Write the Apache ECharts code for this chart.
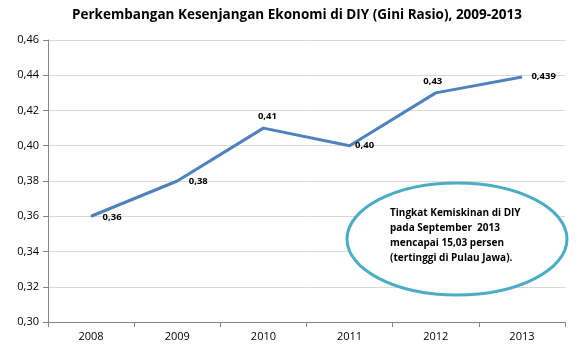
<!DOCTYPE html>
<html>
<head>
<meta charset="utf-8">
<script src="https://cdn.jsdelivr.net/npm/echarts@6/dist/echarts.min.js"></script>
<style>
  html, body { margin: 0; padding: 0; background: #fff; }
  #main { width: 587px; height: 352px; }
</style>
</head>
<body>
<div id="main"></div>
<script>
// data
var years = ["2008", "2009", "2010", "2011", "2012", "2013"];
var gini = [0.36, 0.38, 0.41, 0.40, 0.43, 0.439];
var giniLabels = ["0,36", "0,38", "0,41", "0,40", "0,43", "0,439"];
var noteLines = [
  "Tingkat Kemiskinan di DIY",
  "pada September  2013",
  "mencapai 15,03 persen",
  "(tertinggi di Pulau Jawa)."
];

var font = "'Open Sans', 'Liberation Sans', sans-serif";

// label placement per point (excel style)
var labelPos = [
  { position: "right", distance: 11, offset: [0, 1] },
  { position: "right", distance: 11, offset: [0, 0] },
  { position: "top", distance: 6, offset: [4, 0] },
  { position: "right", distance: 5, offset: [0, 0] },
  { position: "top", distance: 6, offset: [-3, 0] },
  { position: "right", distance: 9, offset: [0, -1] }
];

var myChart = echarts.init(document.getElementById("main"));
myChart.setOption({
  animation: false,
  title: {
    text: "Perkembangan Kesenjangan Ekonomi di DIY (Gini Rasio), 2009-2013",
    left: 292,
    textAlign: "center",
    top: 3,
    textStyle: {
      color: "#000",
      fontSize: 13.5,
      fontWeight: "bold",
      fontFamily: font
    }
  },
  grid: {
    left: 48,
    right: 22,
    top: 40,
    bottom: 30
  },
  xAxis: {
    type: "category",
    data: years,
    boundaryGap: true,
    axisLine: { lineStyle: { color: "#868686", width: 1 } },
    axisTick: { show: true, length: 5, lineStyle: { color: "#868686" } },
    axisLabel: { color: "#000", fontSize: 11, fontFamily: font, margin: 9 },
    splitLine: { show: false }
  },
  yAxis: {
    type: "value",
    min: 0.30,
    max: 0.46,
    interval: 0.02,
    axisLine: { show: true, lineStyle: { color: "#868686", width: 1 } },
    axisTick: { show: true, length: 5, lineStyle: { color: "#868686" } },
    axisLabel: {
      color: "#000",
      fontSize: 11,
      fontFamily: font,
      margin: 9,
      formatter: function (v) {
        return v.toFixed(2).replace(".", ",");
      }
    },
    splitLine: { show: true, lineStyle: { color: "#d9d9d9", width: 1 } }
  },
  series: [
    {
      type: "line",
      data: gini.map(function (v, i) {
        return {
          value: v,
          label: {
            position: labelPos[i].position,
            distance: labelPos[i].distance,
            offset: labelPos[i].offset,
            formatter: giniLabels[i]
          }
        };
      }),
      symbol: "circle",
      symbolSize: 1,
      showSymbol: true,
      itemStyle: { color: "#4f81bd" },
      lineStyle: { color: "#4f81bd", width: 3 },
      label: {
        show: true,
        color: "#000",
        fontSize: 9.5,
        fontWeight: "bold",
        fontFamily: font
      }
    }
  ],
  graphic: [
    {
      type: "ellipse",
      shape: { cx: 457, cy: 239, rx: 110, ry: 56 },
      style: { fill: "#fff", stroke: "#4bacc6", lineWidth: 3 },
      z: 100
    },
    {
      type: "text",
      left: 390,
      top: 206,
      z: 101,
      style: {
        text: noteLines.join("\n"),
        fill: "#000",
        font: "bold 10px " + font,
        lineHeight: 15
      }
    }
  ]
});
</script>
</body>
</html>
